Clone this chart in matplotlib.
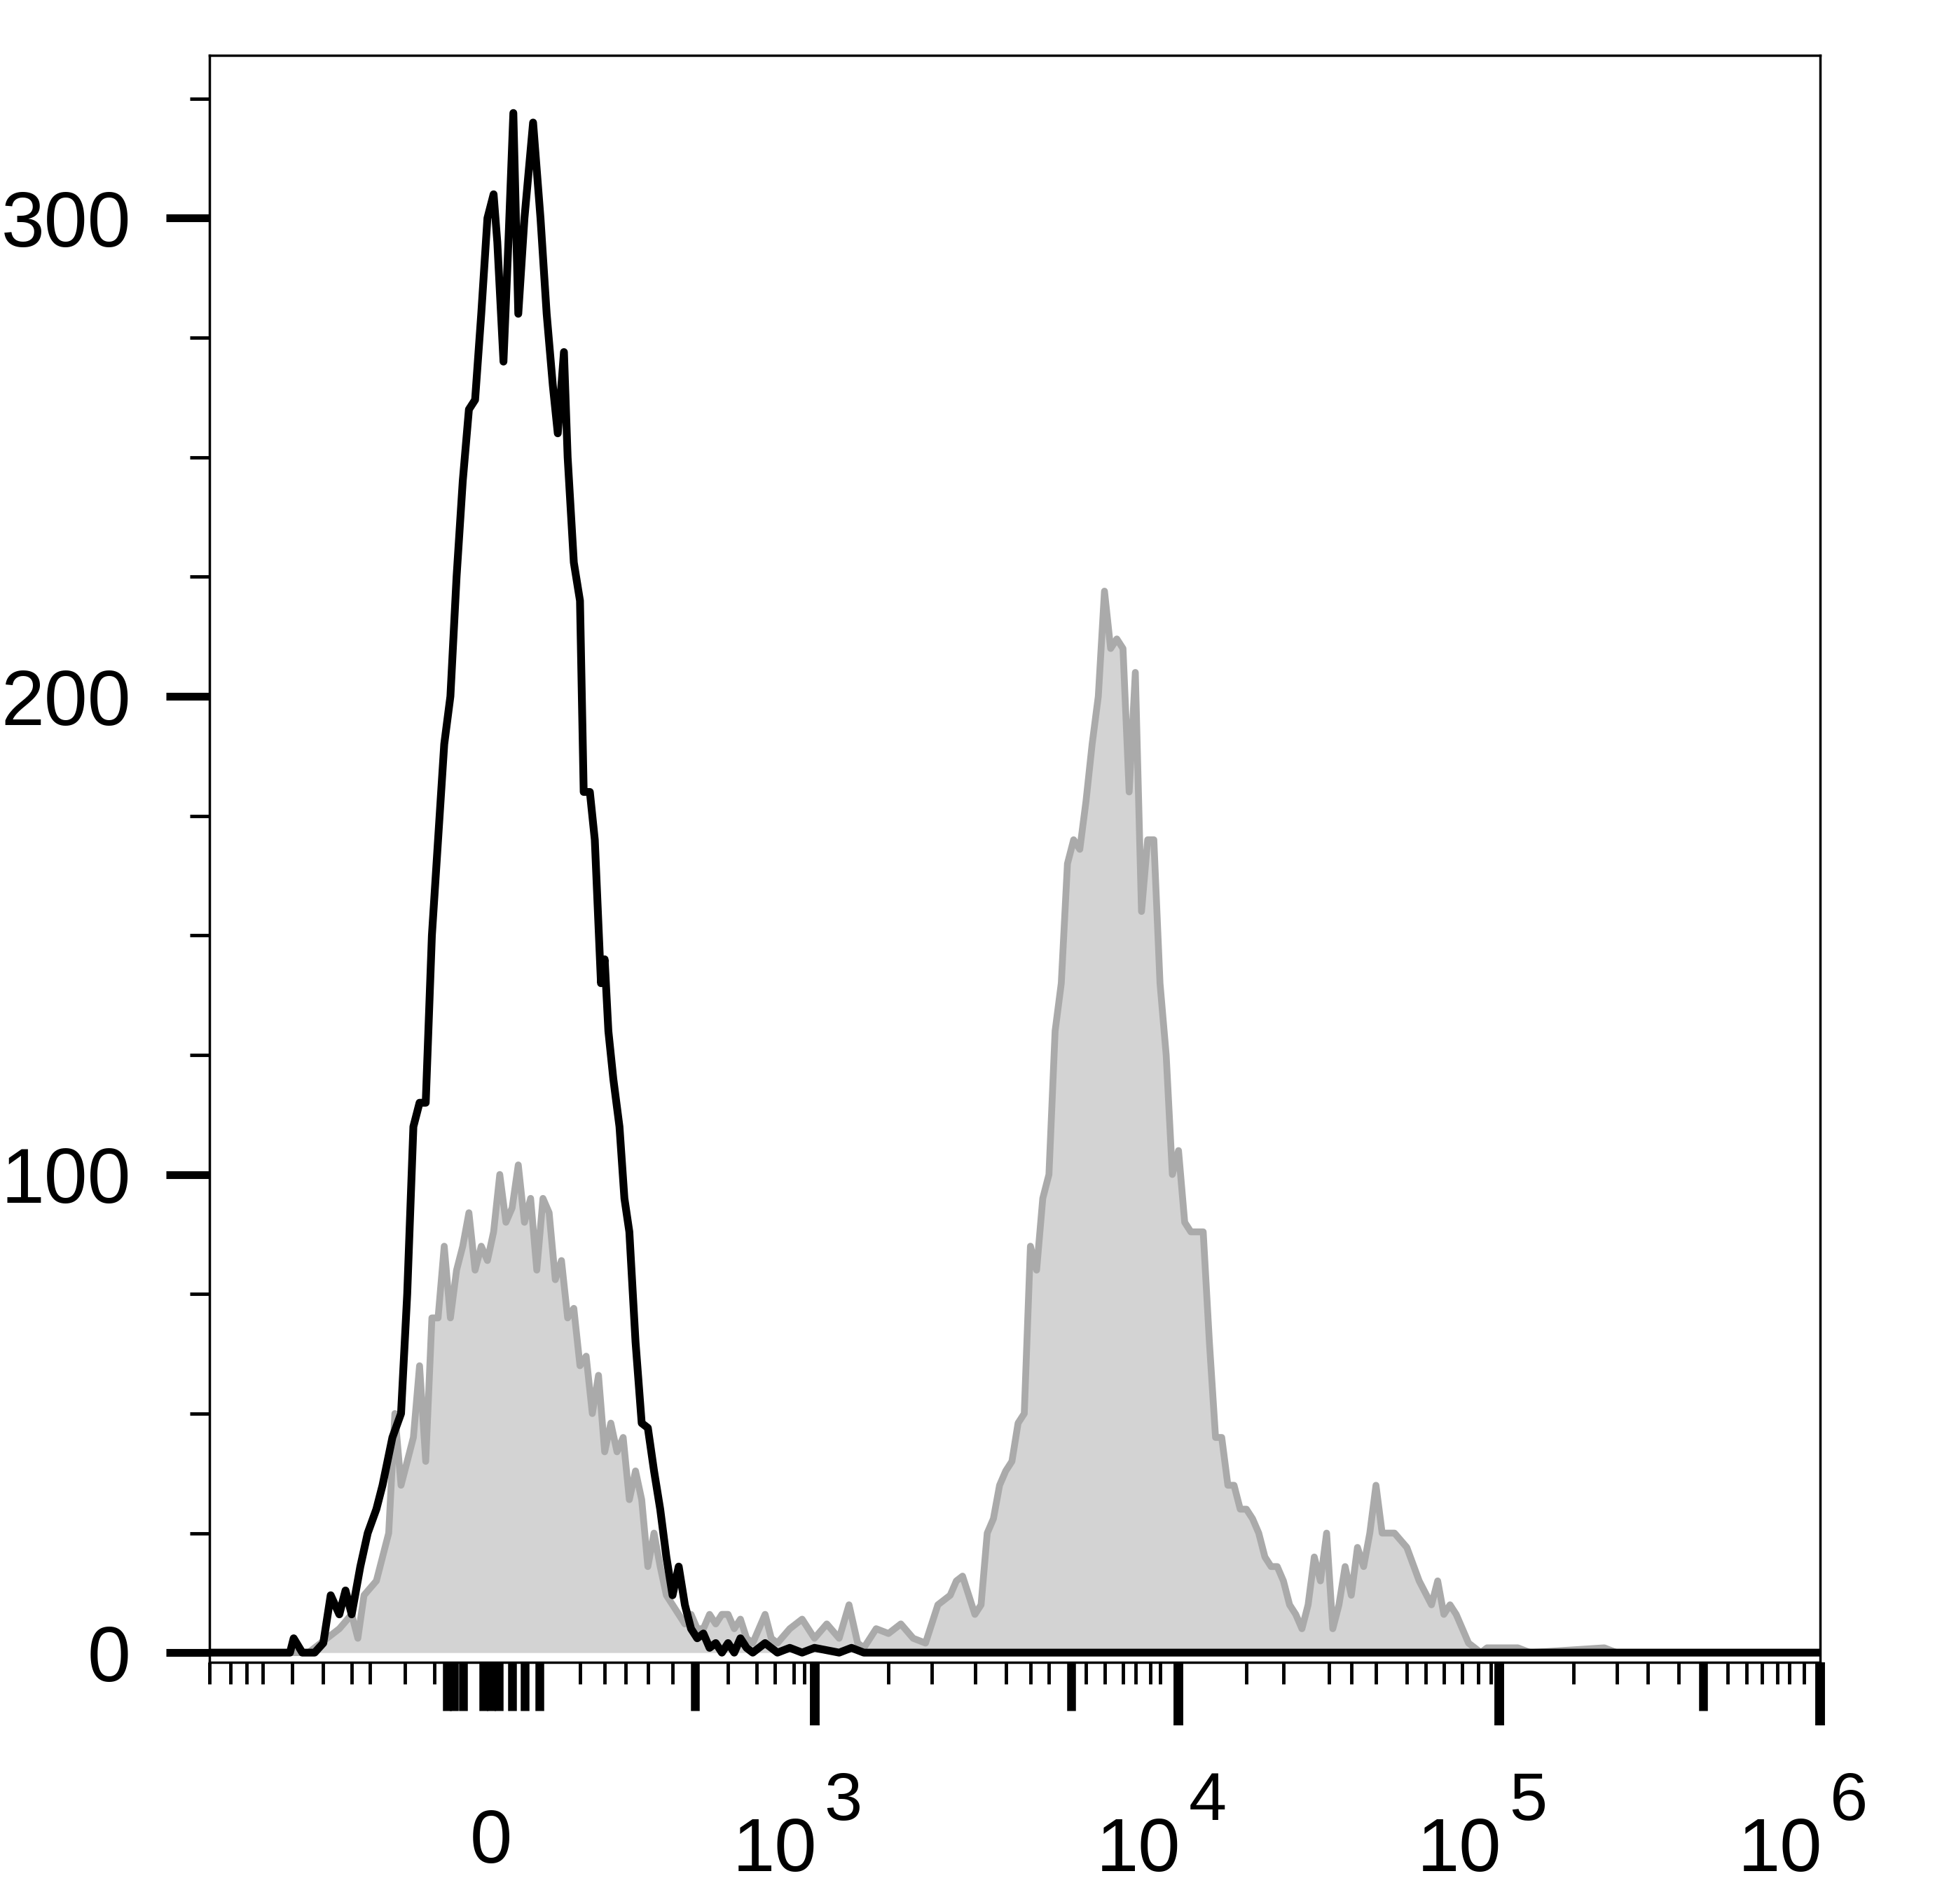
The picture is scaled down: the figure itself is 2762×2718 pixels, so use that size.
import matplotlib
matplotlib.use("Agg")
import matplotlib.pyplot as plt
import numpy as np

plt.rcParams['font.family'] = ['Liberation Sans', 'DejaVu Sans']

# x in display-channel units (0..1305), y in counts
black_x = [0,65,68,75,85,92,98,105,110,115,122,128,135,140,148,155,160,165,170,175,180,185,190,195,200,205,210,215,220,225,230,233,238,242,246,250,255,262,268,273,278,282,287,290,295,300,303,308,312,317,320,323,327,332,336,340,345,350,355,360,365,370,375,380,385,390,395,400,405,410,415,420,425,430,435,440,450,460,470,480,490,510,520,530,1305]
black_y = [0,0,3,0,0,2,12,8,13,8,18,25,30,35,45,50,75,110,115,115,150,170,190,200,225,245,260,262,280,300,305,295,270,295,322,280,300,320,300,280,265,255,272,250,228,220,180,180,170,140,145,130,120,110,95,88,65,48,47,38,30,20,12,18,10,5,3,4,1,2,0,2,0,3,1,0,2,0,1,0,1,0,1,0,0]

grey_x = [0,80,85,95,105,115,120,125,135,145,150,155,160,165,170,175,180,185,190,195,200,205,210,215,220,225,230,235,240,245,250,255,260,265,270,275,280,285,290,295,300,305,310,315,320,325,330,335,340,345,350,355,360,365,370,375,380,385,390,395,400,405,410,415,420,425,430,435,440,445,450,455,460,470,480,490,500,510,518,525,530,540,550,560,570,580,590,600,605,610,615,620,625,630,635,640,645,650,655,660,665,670,675,680,685,690,695,700,705,710,715,720,725,730,735,740,745,750,755,760,765,770,775,780,785,790,795,800,805,810,815,820,825,830,835,840,845,850,855,860,865,870,875,880,885,890,895,900,905,910,915,920,925,930,935,940,945,950,955,960,970,980,990,995,1000,1005,1010,1015,1020,1025,1030,1035,1060,1070,1130,1140,1305]
grey_y = [0,0,1,3,5,8,3,12,15,25,50,35,40,45,60,40,70,70,85,70,80,85,92,80,85,82,88,100,90,93,102,90,95,80,95,92,78,82,70,72,60,62,50,58,42,48,42,45,32,38,32,18,25,18,12,10,8,6,8,5,5,8,6,8,8,5,7,3,2,5,8,3,2,5,7,3,6,3,10,2,1,5,4,6,3,2,10,12,15,16,12,8,10,25,28,35,38,40,48,50,85,80,95,100,130,140,165,170,168,178,190,200,222,210,212,210,180,205,155,170,170,140,125,100,105,90,88,88,88,65,45,45,35,35,30,30,28,25,20,18,18,15,10,8,5,10,20,15,25,5,10,18,12,22,18,25,35,25,25,25,22,15,10,15,8,10,8,5,2,1,0,1,1,0,1,0,0]

xtick_pos = [228, 490, 785, 1045, 1305]
xtick_base = ['0', '10', '10', '10', '10']
xtick_exp = ['', '3', '4', '5', '6']
major_px = [660, 955, 1215, 1475]
medium_px = [362,368,375,392,398,404,415,425,437,563,868,1380]
minor_px = [170,187,200,213,237,262,285,300,328,352,470,490,507,525,545,590,613,628,643,652,
            720,755,790,815,835,850,880,895,910,920,932,940,1010,1040,1077,1095,1115,1140,1155,
            1170,1185,1198,1208,1275,1310,1335,1360,1400,1415,1428,1440,1450,1462]

fig = plt.figure(figsize=(27.62, 27.18), dpi=100)
ax = fig.add_axes([0.1084, 0.127, 0.8323, 0.8438])
ax.fill_between(grey_x, grey_y, 0, color='#d3d3d3', lw=0)
ax.plot(grey_x, grey_y, color='#aaaaaa', lw=7)
ax.plot(black_x, black_y, color='black', lw=8)
ax.set_xlim(0, 1305)
ax.set_ylim(-2, 334)
for s in ax.spines.values():
    s.set_linewidth(2.5)

ax.set_yticks([0, 100, 200, 300])
ax.set_yticklabels(['0', '100', '200', '300'], fontsize=80)
ax.set_yticks(np.arange(25, 334, 25)[[i for i in range(13) if (i+1) % 4 != 0]], minor=True)
ax.tick_params(axis='y', which='major', length=45, width=8, pad=36, direction='out')
ax.tick_params(axis='y', which='minor', length=20, width=3.5, direction='out')

ax.set_xticks([p - 170 for p in major_px])
ax.set_xticklabels([])
ax.set_xticks([p - 170 for p in minor_px], minor=True)
ax.tick_params(axis='x', which='major', length=65, width=10, direction='out')
ax.tick_params(axis='x', which='minor', length=22, width=3.5, direction='out')
for p in medium_px:
    ax.plot([p - 170, p - 170], [0, -0.03], transform=ax.get_xaxis_transform(),
            color='black', lw=9, clip_on=False, solid_capstyle='butt')
tr = ax.get_xaxis_transform()
for p, b, e in zip(xtick_pos, xtick_base, xtick_exp):
    if e:
        ax.text(p + 2, -0.13, b, transform=tr, ha='right', va='baseline', fontsize=78)
        ax.text(p + 8, -0.098, e, transform=tr, ha='left', va='baseline', fontsize=70)
    else:
        ax.text(p, -0.125, b, transform=tr, ha='center', va='baseline', fontsize=78)

fig.savefig('out.png', dpi=100)
